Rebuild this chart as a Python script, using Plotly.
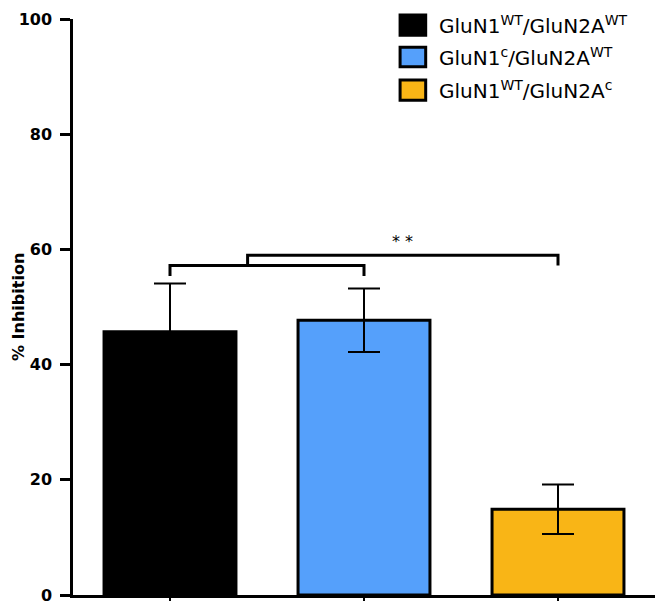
import plotly.graph_objects as go

categories = ["GluN1<sup>WT</sup>/GluN2A<sup>WT</sup>",
              "GluN1<sup>c</sup>/GluN2A<sup>WT</sup>",
              "GluN1<sup>WT</sup>/GluN2A<sup>c</sup>"]
inhibition = [45.7, 47.7, 14.9]
sem = [8.4, 5.5, 4.3]
colors = ["#000000", "#55A0FB", "#F9B516"]
y_ticks = [0, 20, 40, 60, 80, 100]
y_title = "% Inhibition"

# significance bracket levels
br1_y, br1_drop = 57.2, 55.4
br2_y = 59.0
sig_label = "* *"

fig = go.Figure()
for i, (c, v, e, col) in enumerate(zip(categories, inhibition, sem, colors)):
    fig.add_trace(go.Bar(
        x=[i], y=[v], name=c, width=0.68,
        marker=dict(color=col, line=dict(color="black", width=3)),
        error_y=dict(type="data", array=[e], color="black", thickness=2, width=16),
        showlegend=False,
    ))

shapes = []
line = dict(color="black", width=3)
shapes.append(dict(type="path", xref="x", yref="y",
                   path=f"M 0,{br1_drop} L 0,{br1_y} L 1,{br1_y} L 1,{br1_drop}",
                   line=line))
shapes.append(dict(type="path", xref="x", yref="y",
                   path=f"M 0.4,{br1_y} L 0.4,{br2_y} L 2,{br2_y} L 2,{br1_y}",
                   line=line))

leg_y = [(0.972, 1.007), (0.917, 0.951), (0.859, 0.894)]
for (y0, y1), col in zip(leg_y, colors):
    shapes.append(dict(type="rect", xref="paper", yref="paper",
                       x0=0.562, x1=0.606, y0=y0, y1=y1,
                       fillcolor=col, line=dict(color="black", width=3)))

annotations = [dict(x=1.2, y=br2_y + 0.3, xref="x", yref="y", text=sig_label,
                    showarrow=False, yanchor="bottom",
                    font=dict(size=16, color="black", family="DejaVu Sans"))]
for (y0, y1), c in zip(leg_y, categories):
    annotations.append(dict(x=0.625, y=(y0 + y1) / 2, xref="paper", yref="paper",
                            text=c, showarrow=False, xanchor="left", yanchor="middle",
                            font=dict(size=20, color="black", family="DejaVu Sans")))
annotations.append(dict(x=0, y=0.5, xref="paper", yref="paper", xshift=-55,
                        text=y_title, textangle=-90, showarrow=False,
                        xanchor="center", yanchor="middle",
                        font=dict(size=16, family="DejaVu Sans", color="black", weight="bold")))

fig.update_layout(
    width=661, height=601,
    margin=dict(l=73, r=6, t=19, b=6),
    plot_bgcolor="white", paper_bgcolor="white",
    shapes=shapes, annotations=annotations,
    showlegend=False,
)
fig.update_xaxes(range=[-0.5, 2.5], tickvals=[0, 1, 2], showticklabels=False,
                 showline=True, linecolor="black", linewidth=2.5,
                 ticks="outside", ticklen=6, tickwidth=2, tickcolor="black",
                 showgrid=False, zeroline=False, automargin=False)
fig.update_yaxes(range=[0, 100], tickvals=y_ticks,
                 showline=True, linecolor="black", linewidth=2.5,
                 ticks="outside", ticklen=10, tickwidth=2.5, tickcolor="black",
                 ticklabelstandoff=5, ticklabeloverflow="allow",
                 tickfont=dict(size=16, family="DejaVu Sans", color="black", weight="bold"),
                 showgrid=False, zeroline=False, automargin=False)

fig.write_html("out.html", config={"displayModeBar": False},
               post_script="document.body.style.margin='0';document.body.style.overflow='hidden';")
